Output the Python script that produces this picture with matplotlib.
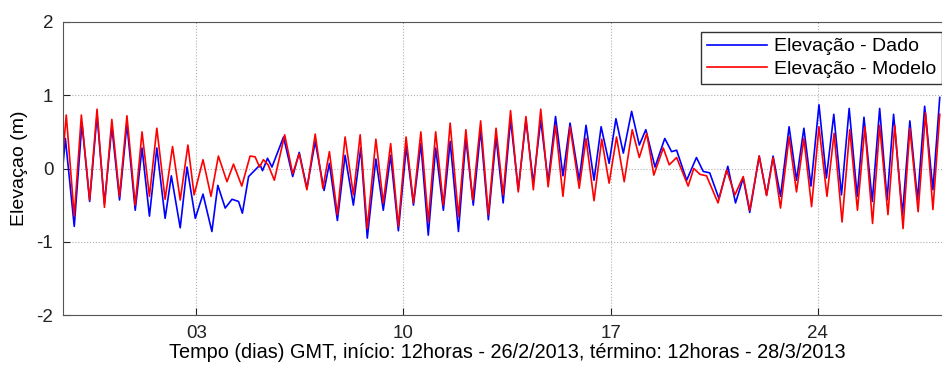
import matplotlib
matplotlib.use('Agg')
import matplotlib.pyplot as plt

plt.rcParams['font.family'] = ['Liberation Sans', 'DejaVu Sans']
plt.rcParams['axes.unicode_minus'] = False

# time in days of March 2013 (26/2 12h = -1.5), extremes
t_dado = [-1.50, -1.42, -1.12, -0.86, -0.60, -0.35, -0.10, 0.15, 0.41, 0.66,
          0.94, 1.17, 1.42, 1.67, 1.95, 2.16, 2.46, 2.69, 2.97, 3.23,
          3.53, 3.73, 3.98, 4.21, 4.43, 4.56, 4.77, 5.16, 5.24, 5.41,
          5.56, 5.95, 6.26, 6.48, 6.74, 7.02, 7.32, 7.50, 7.77, 8.03,
          8.31, 8.56, 8.78, 9.07, 9.32, 9.57, 9.83, 10.10, 10.34, 10.59,
          10.84, 11.09, 11.35, 11.58, 11.86, 12.11, 12.36, 12.61, 12.87, 13.13,
          13.37, 13.62, 13.88, 14.14, 14.39, 14.64, 14.89, 15.14, 15.39, 15.63,
          15.94, 16.17, 16.44, 16.68, 16.95, 17.18, 17.43, 17.71, 17.97, 18.19,
          18.50, 18.83, 19.06, 19.23, 19.57, 19.90, 20.13, 20.35, 20.66, 20.96,
          21.22, 21.48, 21.70, 22.02, 22.27, 22.49, 22.74, 23.03, 23.28, 23.53,
          23.77, 24.04, 24.29, 24.54, 24.80, 25.06, 25.33, 25.56, 25.84, 26.09,
          26.34, 26.56, 26.86, 27.11, 27.37, 27.61, 27.89, 28.12]
elev_dado = [0.05, 0.41, -0.79, 0.62, -0.45, 0.73, -0.48, 0.57, -0.43, 0.61,
             -0.57, 0.28, -0.65, 0.28, -0.68, -0.10, -0.81, 0.02, -0.68, -0.35,
             -0.86, -0.23, -0.54, -0.42, -0.45, -0.61, -0.11, 0.05, -0.03, 0.14,
             0.02, 0.43, -0.11, 0.22, -0.27, 0.37, -0.30, 0.07, -0.71, 0.18,
             -0.50, 0.28, -0.95, 0.13, -0.57, 0.18, -0.85, 0.30, -0.50, 0.34,
             -0.91, 0.28, -0.57, 0.37, -0.86, 0.41, -0.50, 0.53, -0.70, 0.43,
             -0.47, 0.67, -0.29, 0.66, -0.20, 0.66, -0.18, 0.71, -0.10, 0.62,
             -0.16, 0.59, -0.16, 0.57, 0.07, 0.68, 0.21, 0.78, 0.32, 0.53,
             0.02, 0.41, 0.23, 0.25, -0.16, 0.15, -0.04, -0.06, -0.41, 0.03,
             -0.47, -0.13, -0.60, 0.17, -0.36, 0.17, -0.38, 0.57, -0.16, 0.55,
             -0.24, 0.87, -0.13, 0.74, -0.36, 0.82, -0.38, 0.70, -0.45, 0.82,
             -0.43, 0.74, -0.63, 0.65, -0.43, 0.85, -0.29, 0.97]

t_modelo = [-1.50, -1.39, -1.12, -0.88, -0.60, -0.35, -0.10, 0.15, 0.41, 0.66,
            0.94, 1.17, 1.42, 1.67, 1.95, 2.20, 2.46, 2.72, 2.93, 3.23,
            3.50, 3.75, 4.04, 4.26, 4.54, 4.82, 4.99, 5.14, 5.27, 5.43,
            5.64, 5.99, 6.26, 6.48, 6.74, 7.02, 7.28, 7.50, 7.77, 8.03,
            8.31, 8.54, 8.78, 9.07, 9.32, 9.57, 9.83, 10.09, 10.34, 10.59,
            10.84, 11.09, 11.35, 11.58, 11.86, 12.11, 12.34, 12.61, 12.87, 13.13,
            13.37, 13.62, 13.88, 14.14, 14.39, 14.64, 14.89, 15.14, 15.39, 15.63,
            15.94, 16.17, 16.44, 16.70, 16.95, 17.20, 17.46, 17.73, 17.97, 18.22,
            18.46, 18.78, 18.98, 19.23, 19.62, 19.81, 20.02, 20.24, 20.63, 20.92,
            21.20, 21.48, 21.70, 22.02, 22.27, 22.49, 22.74, 23.03, 23.28, 23.53,
            23.79, 24.04, 24.31, 24.55, 24.82, 25.08, 25.34, 25.59, 25.85, 26.09,
            26.37, 26.60, 26.88, 27.11, 27.39, 27.64, 27.89, 28.12]
elev_modelo = [0.20, 0.73, -0.65, 0.73, -0.43, 0.81, -0.53, 0.67, -0.38, 0.72,
               -0.50, 0.50, -0.38, 0.55, -0.42, 0.30, -0.43, 0.32, -0.36, 0.12,
               -0.38, 0.17, -0.18, 0.06, -0.24, 0.17, 0.16, 0.02, 0.12, 0.05,
               -0.16, 0.46, -0.07, 0.20, -0.29, 0.47, -0.27, 0.23, -0.63, 0.43,
               -0.36, 0.46, -0.82, 0.40, -0.47, 0.34, -0.79, 0.43, -0.47, 0.50,
               -0.73, 0.50, -0.50, 0.62, -0.66, 0.53, -0.43, 0.65, -0.63, 0.55,
               -0.36, 0.79, -0.32, 0.71, -0.29, 0.81, -0.25, 0.59, -0.38, 0.57,
               -0.27, 0.41, -0.44, 0.40, -0.20, 0.43, -0.18, 0.53, 0.15, 0.48,
               -0.09, 0.28, 0.05, 0.15, -0.24, 0.00, -0.08, -0.10, -0.47, -0.02,
               -0.36, -0.11, -0.57, 0.17, -0.37, 0.15, -0.54, 0.43, -0.32, 0.41,
               -0.52, 0.57, -0.38, 0.48, -0.73, 0.53, -0.57, 0.57, -0.75, 0.59,
               -0.63, 0.59, -0.82, 0.55, -0.59, 0.76, -0.56, 0.74]

day_ticks = [3, 10, 17, 24]
day_labels = ['03', '10', '17', '24']
y_ticks = [-2, -1, 0, 1, 2]

fig = plt.figure(figsize=(9.42, 3.68), dpi=100)
ax = fig.add_axes([63 / 942, 53 / 368, 888 / 942, 293 / 368])

ax.plot(t_dado, elev_dado, color='#0000ff', lw=1.2, label='Elevação - Dado')
ax.plot(t_modelo, elev_modelo, color='#ff0000', lw=1.2, label='Elevação - Modelo')

ax.set_xlim(-1.5, 28.5)
ax.set_ylim(-2, 2)
ax.set_xticks(day_ticks)
ax.set_xticklabels(day_labels)
ax.set_yticks(y_ticks)
ax.grid(True, linestyle=':', color='#b0b0b0', lw=0.8)
ax.tick_params(direction='in', length=5, labelsize=13.5, colors='#222222', pad=7)
for s in ax.spines.values():
    s.set_color('#555555')

ax.set_xlabel('Tempo (dias) GMT, início: 12horas - 26/2/2013, término: 12horas - 28/3/2013',
              fontsize=14.3, labelpad=1)
ax.set_ylabel('Elevaçao (m)', fontsize=14, labelpad=6)

leg = ax.legend(loc='upper right', bbox_to_anchor=(0.99, 0.966), fontsize=14,
                handlelength=3.1, handletextpad=0.35, fancybox=False, framealpha=1,
                borderpad=0.3, labelspacing=0.25, borderaxespad=0)
leg.get_frame().set_edgecolor('#333333')
leg.get_frame().set_linewidth(1.0)

fig.savefig('out.png', dpi=100)
